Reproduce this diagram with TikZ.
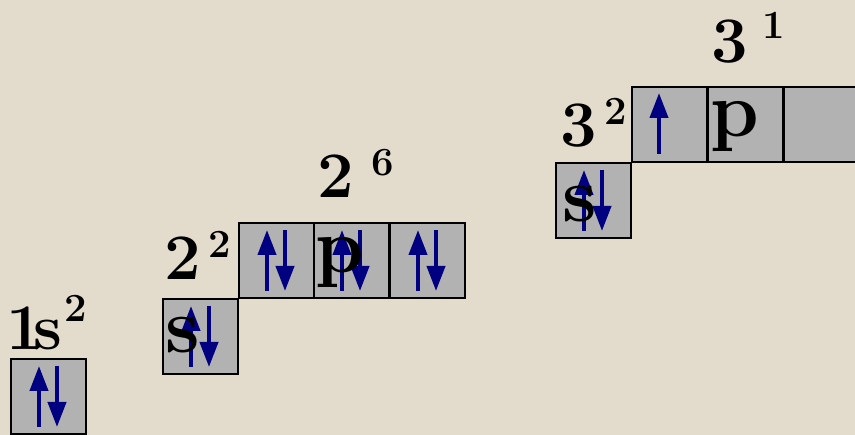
\documentclass[tikz,border=0pt]{standalone}
\usetikzlibrary{arrows.meta}
\definecolor{bg}{RGB}{227,219,204}
\definecolor{cellgray}{RGB}{178,178,178}
\definecolor{spin}{RGB}{0,0,128}
\newcommand\pairin[1]{%
  \draw[spinarrow] ([shift={(28pt,-68pt)}]#1.north west) -- ([shift={(28pt,-7pt)}]#1.north west);
  \draw[spinarrow] ([shift={(46pt,-7pt)}]#1.north west) -- ([shift={(46pt,-68pt)}]#1.north west);}
\newcommand\upin[1]{%
  \draw[spinarrow] ([shift={(27pt,-67pt)}]#1.north west) -- ([shift={(27pt,-6pt)}]#1.north west);}
\begin{document}
\begin{tikzpicture}[x=1pt,y=-1pt,
  cell/.style={draw=black,line width=1.8pt,fill=cellgray,minimum size=75pt,anchor=north west,inner sep=0pt,outer sep=0pt},
  spinarrow/.style={draw=spin,line width=4pt,-{Triangle[width=18pt,length=25pt]}},
  lab/.style={inner sep=0pt,anchor=base west,font=\fontsize{65}{65}\selectfont\bfseries},
  sup/.style={inner sep=0pt,anchor=base west,font=\fontsize{40}{40}\selectfont\bfseries},
  big/.style={inner sep=0pt,anchor=base west,font=\fontsize{78}{78}\selectfont\bfseries}]
\fill[bg] (0,0) rectangle (855,435);
\useasboundingbox (0,0) rectangle (855,435);
% cells
\node[cell] (c1s) at (11,359) {};
\node[cell] (c2s) at (163,299) {};
\node[cell] (c2pa) at (239,223) {};
\node[cell] (c2pb) at (314,223) {};
\node[cell] (c2pc) at (390,223) {};
\node[cell] (c3s) at (556,163) {};
\node[cell] (c3pa) at (632,87) {};
\node[cell] (c3pb) at (708,87) {};
\node[cell] (c3pc) at (784,87) {};
% spins
\pairin{c1s}
\pairin{c2s}
\pairin{c2pa}
\pairin{c2pb}
\pairin{c2pc}
\pairin{c3s}
\upin{c3pa}
% labels
\node[lab] (l1s) at (6,350) {1\kern-9pt s};
\node[sup] (l1sx) at (64,322) {2};
\node[lab] (l2s) at (164,280) {2};
\node[sup] (l2sx) at (208,258) {2};
\node[big] (s2) at (165,353) {s};
\node[lab] (l2p) at (317,198) {2};
\node[sup] (l2px) at (371,176) {6};
\node[big] (p2) at (315,273) {p};
\node[lab] (l3s) at (560,147) {3};
\node[sup] (l3sx) at (604,125) {2};
\node[big] (s3) at (562,222) {s};
\node[lab] (l3p) at (711,63) {3};
\node[sup] (l3px) at (762,39) {1};
\node[big] (p3) at (710,137) {p};
\end{tikzpicture}
\end{document}
